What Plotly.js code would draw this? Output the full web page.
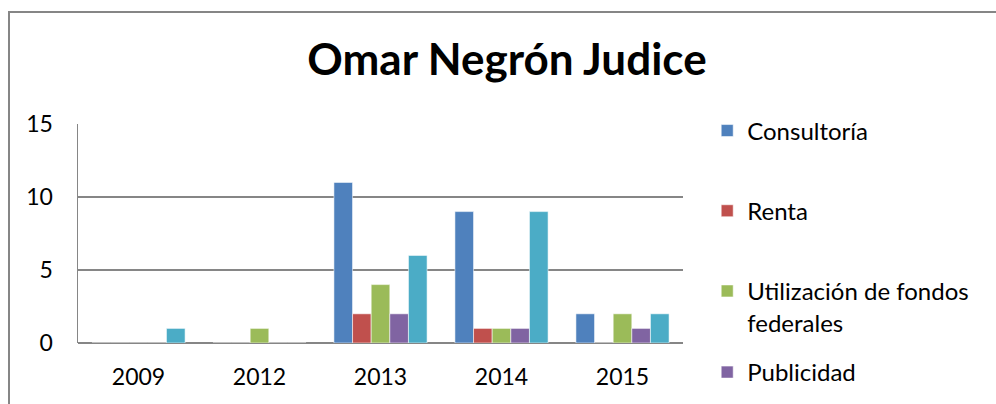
<!DOCTYPE html>
<html>
<head>
<meta charset="utf-8">
<script src="https://cdn.plot.ly/plotly-3.0.1.min.js"></script>
<style>html,body{margin:0;padding:0;background:#fff;}#chart{width:996px;height:404px;}</style>
</head>
<body>
<div id="chart"></div>
<script>
const years = ["2009", "2012", "2013", "2014", "2015"];
const consultoria = [0, 0, 11, 9, 2];
const renta = [0, 0, 2, 1, 0];
const utilizacion = [0, 1, 4, 1, 2];
const publicidad = [0, 0, 2, 1, 1];
const otros = [1, 0, 6, 9, 2];
const yTicks = [0, 5, 10, 15];

const FONT = "Lato, 'Open Sans', 'Noto Sans', sans-serif";
const edge = {color: "rgba(255,255,255,0.55)", width: 1};

const traces = [
  {name: "Consultoría", y: consultoria, color: "#4F81BD", show: true, lg: "legend"},
  {name: "Renta", y: renta, color: "#C0504D", show: true, lg: "legend"},
  {name: "Utilización de fondos<br>federales", y: utilizacion, color: "#9BBB59", show: true, lg: "legend"},
  {name: "Publicidad", y: publicidad, color: "#8064A2", show: true, lg: "legend2"},
  {name: "Otros", y: otros, color: "#4BACC6", show: false, lg: "legend2"}
].map((t, i) => ({
  type: "bar",
  x: years,
  y: t.y,
  name: t.name,
  legend: t.lg,
  legendgroup: "g" + i,
  showlegend: t.show,
  marker: {color: t.color, line: edge}
}));

const legendBase = {
  x: 1.04, xanchor: "left", yanchor: "top",
  font: {family: FONT, size: 24, color: "#000"},
  valign: "top",
  tracegroupgap: 46,
  maxheight: 2000,
  bgcolor: "rgba(0,0,0,0)"
};

const layout = {
  width: 996,
  height: 404,
  margin: {l: 78, r: 313, t: 124, b: 61, autoexpand: false},
  paper_bgcolor: "#ffffff",
  plot_bgcolor: "#ffffff",
  font: {family: FONT, color: "#000000", size: 24},
  title: {
    text: "<b>Omar Negrón Judice</b>",
    font: {family: FONT, size: 44, color: "#000000"},
    x: 0.509, xanchor: "center",
    y: 0.853, yanchor: "middle", yref: "container"
  },
  barmode: "group",
  bargap: 0.23,
  bargroupgap: 0,
  xaxis: {
    type: "category",
    showgrid: false,
    showline: false,
    zeroline: false,
    ticks: "",
    ticklabelstandoff: 18,
    tickfont: {family: FONT, size: 23, color: "#000"}
  },
  yaxis: {
    range: [0, 15],
    tickvals: yTicks,
    ticktext: yTicks.map(String),
    showgrid: true,
    gridcolor: "#868686",
    gridwidth: 1.5,
    zeroline: true,
    zerolinecolor: "#868686",
    zerolinewidth: 1.5,
    showline: true,
    linecolor: "#868686",
    linewidth: 1.5,
    ticks: "",
    ticklabelstandoff: 19,
    tickfont: {family: FONT, size: 23, color: "#000"},
    fixedrange: true
  },
  legend: Object.assign({}, legendBase, {y: 1.071}),
  legend2: Object.assign({}, legendBase, {y: -0.032}),
  shapes: [{
    type: "rect", xref: "paper", yref: "paper",
    x0: (9 - 78) / 605, x1: 2.5,
    y0: -2, y1: (343 - 12) / 219,
    line: {color: "#868686", width: 2},
    fillcolor: "rgba(0,0,0,0)",
    layer: "below"
  }]
};

Plotly.newPlot("chart", traces, layout, {displayModeBar: false, staticPlot: true});
</script>
</body>
</html>
